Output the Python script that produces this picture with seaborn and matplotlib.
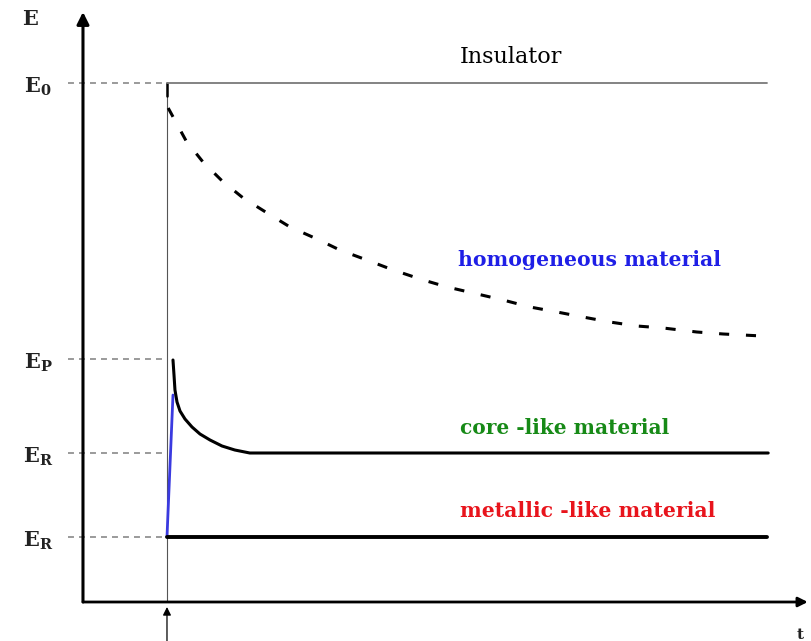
import numpy as np
import pandas as pd
import matplotlib
matplotlib.use("Agg")
import matplotlib.pyplot as plt
import seaborn as sns

# energy levels (arbitrary units)
E0 = 5.19
EP = 2.43
ER_CORE = 1.49
ER_METAL = 0.65
T_END = 1.0

# homogeneous material: slow decay from near E0
t_homog = [0.002, 0.032, 0.06, 0.092, 0.127, 0.167, 0.205, 0.25, 0.288, 0.333,
           0.377, 0.427, 0.467, 0.51, 0.56, 0.605, 0.65, 0.693, 0.738, 0.783,
           0.827, 0.883, 0.927, 0.992]
e_homog = [4.94, 4.61, 4.40, 4.21, 4.04, 3.89, 3.75, 3.63, 3.52, 3.42,
           3.32, 3.22, 3.15, 3.09, 3.02, 2.95, 2.90, 2.85, 2.80, 2.76,
           2.74, 2.70, 2.68, 2.66]

# core-like material: peak at EP then relaxes to ER
t_core = [0.01, 0.0117, 0.0133, 0.0167, 0.0217, 0.03, 0.0417, 0.055, 0.0717,
          0.0917, 0.113, 0.138, 1.002]
e_core = [2.42, 2.27, 2.12, 2.00, 1.91, 1.83, 1.75, 1.68, 1.62,
          1.56, 1.52, 1.49, 1.49]

# charging ramp (blue) and metallic level
t_ramp = [0.0, 0.01]
e_ramp = [ER_METAL, 2.07]
t_metal = [0.0, T_END]
e_metal = [ER_METAL, ER_METAL]
t_insul = [0.0, T_END]
e_insul = [E0, E0]

level_values = [E0, EP, ER_CORE, ER_METAL]
level_labels = ["E$_0$", "E$_P$", "E$_R$", "E$_R$"]

T_YAXIS = -0.14
T_XAXIS_END = 1.068
E_TOP = 5.9
T_DASH_START = -0.165

sns.set_theme(style="white")
plt.rcParams["font.family"] = ["DejaVu Serif"]
plt.rcParams["mathtext.fontset"] = "dejavuserif"
plt.rcParams["mathtext.default"] = "regular"

fig = plt.figure(figsize=(8.12, 6.41), dpi=100)
ax = fig.add_axes([0, 0, 1, 1])
ax.set_xlim(-0.2783, 1.075)
ax.set_ylim(-0.39, 6.02)
ax.axis("off")

# reference dashed levels and labels
for val, lab in zip(level_values, level_labels):
    ax.plot([T_DASH_START, 0], [val, val], color="#7e7e7e", lw=1.1,
            dashes=(3.9, 3.3))
    ax.text(-0.215, val - 0.04, lab, fontsize=15, fontweight="bold",
            ha="center", va="center", color="#222222")

# vertical marker at injection time
ax.plot([0, 0], [0, E0], color="#555555", lw=0.8)
ax.plot([0, 0], [E0 - 0.13, E0], color="black", lw=1.8)

# curves
sns.lineplot(x=t_insul, y=e_insul, ax=ax, color="#7a7a7a", lw=1.3,
             estimator=None, sort=False)
sns.lineplot(x=t_homog, y=e_homog, ax=ax, color="black", lw=2.2,
             estimator=None, sort=False).lines[-1].set_dashes((3.3, 5.5))
sns.lineplot(x=t_ramp, y=e_ramp, ax=ax, color="#3a3ae0", lw=2.0,
             estimator=None, sort=False)
sns.lineplot(x=t_core, y=e_core, ax=ax, color="black", lw=2.2,
             estimator=None, sort=False)
sns.lineplot(x=t_metal, y=e_metal, ax=ax, color="black", lw=2.8,
             estimator=None, sort=False)

# axes with arrows
ax.annotate("", xy=(T_YAXIS, E_TOP), xytext=(T_YAXIS, 0),
            arrowprops=dict(arrowstyle="-|>", color="black", lw=2.2,
                            mutation_scale=18, shrinkA=0, shrinkB=0))
ax.annotate("", xy=(T_XAXIS_END, 0), xytext=(T_YAXIS, 0),
            arrowprops=dict(arrowstyle="-|>", color="black", lw=2.0,
                            mutation_scale=14, shrinkA=0, shrinkB=0))
ax.annotate("", xy=(0, -0.05), xytext=(0, -0.39),
            arrowprops=dict(arrowstyle="-|>", color="black", lw=0.9,
                            mutation_scale=12, shrinkA=0, shrinkB=0))

ax.text(-0.228, 5.83, "E", fontsize=15, fontweight="bold", ha="center",
        va="center", color="#222222")
ax.text(1.056, -0.33, "t", fontsize=11, fontweight="bold", ha="center",
        va="center", color="#222222")

# annotations
ax.text(0.488, 5.45, "Insulator", fontsize=16, ha="left", va="center",
        color="black")
ax.text(0.485, 3.42, "homogeneous material", fontsize=14.7, fontweight="bold",
        ha="left", va="center", color="#1f1fe6")
ax.text(0.488, 1.74, "core -like material", fontsize=14.5, fontweight="bold",
        ha="left", va="center", color="#178a17")
ax.text(0.488, 0.91, "metallic -like material", fontsize=14.7, fontweight="bold",
        ha="left", va="center", color="#e8141c")

fig.savefig("out.png", dpi=100)
